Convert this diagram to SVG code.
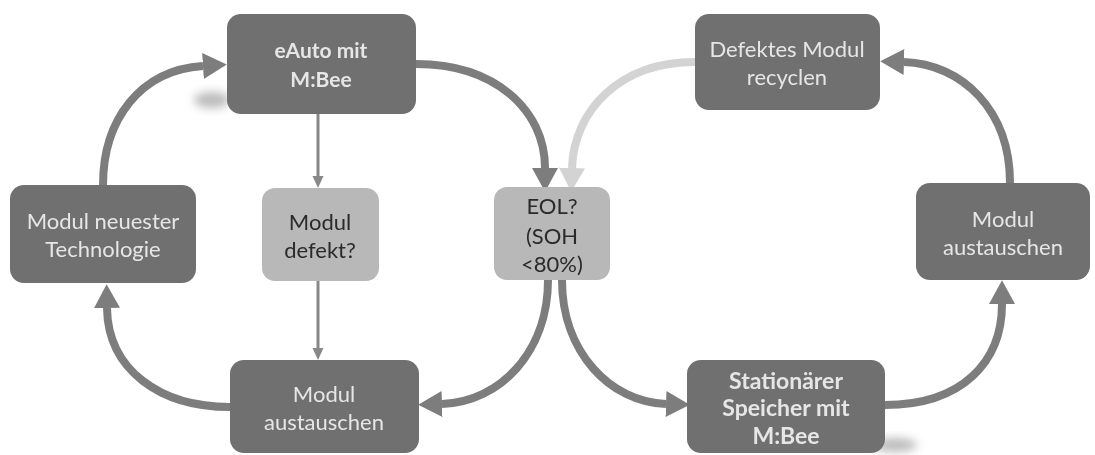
<svg xmlns="http://www.w3.org/2000/svg" width="1095" height="455" viewBox="0 0 1095 455">
<style>
.dark{fill:#707070;}
.light{fill:#b8b8b8;}
.t{font-family:Lato,"Open Sans","Liberation Sans",sans-serif;font-size:22px;text-anchor:middle;}
.tw{fill:#e6e6e6;}
.tb{fill:#2a2a2a;}
.b{font-weight:bold;font-size:21px;}
.bl{font-weight:bold;font-size:23px;}
.arr{fill:none;stroke:#7d7d7d;stroke-width:8;}
.arrl{fill:none;stroke:#d3d3d3;stroke-width:8;}
.thin{fill:none;stroke:#888888;stroke-width:3;}
</style>
<defs>
<marker id="ah" markerUnits="userSpaceOnUse" markerWidth="24" markerHeight="26" refX="0" refY="12" orient="auto" viewBox="0 0 22 24"><path d="M0,0 L22,12 L0,24 z" fill="#7d7d7d"/></marker>
<marker id="ahl" markerUnits="userSpaceOnUse" markerWidth="24" markerHeight="26" refX="0" refY="12" orient="auto" viewBox="0 0 22 24"><path d="M0,0 L22,12 L0,24 z" fill="#d3d3d3"/></marker>
<marker id="ahs" markerUnits="userSpaceOnUse" markerWidth="12" markerHeight="12" refX="0" refY="5.5" orient="auto" viewBox="0 0 12 11"><path d="M0,0 L12,5.5 L0,11 z" fill="#888888"/></marker>
<filter id="blur" x="-50%" y="-50%" width="200%" height="200%"><feGaussianBlur stdDeviation="5"/></filter>
</defs>
<g id="shadows" opacity="0.5">
<ellipse cx="212" cy="100" rx="18" ry="8" fill="#777" filter="url(#blur)"/>
<ellipse cx="895" cy="445" rx="22" ry="7" fill="#777" filter="url(#blur)"/>
</g>
<g id="connectors">
<path class="arr" d="M416,64 C495,64 545,110 545,168" marker-end="url(#ah)"/>
<path class="arrl" d="M695,62 C620,62 574,110 572,168" marker-end="url(#ahl)"/>
<path class="thin" d="M318,114 L318,176" marker-end="url(#ahs)"/>
<path class="thin" d="M318,281 L318,348" marker-end="url(#ahs)"/>
<path class="arr" d="M548,280 C548,352 500,402 442,404" marker-end="url(#ah)"/>
<path class="arr" d="M562,280 C562,352 610,402 666,404" marker-end="url(#ah)"/>
<path class="arr" d="M885,405 C962,405 1002,362 1002,304" marker-end="url(#ah)"/>
<path class="arr" d="M1010,183 C1010,110 962,64 904,62" marker-end="url(#ah)"/>
<path class="arr" d="M230,407 C160,407 108,370 107,308" marker-end="url(#ah)"/>
<path class="arr" d="M103,185 C103,120 140,70 203,66" marker-end="url(#ah)"/>
</g>
<g id="eauto">
<rect class="dark" x="227" y="14" width="189" height="100" rx="14"/>
<text class="t tw b" x="321" y="58">eAuto mit</text>
<text class="t tw b" x="321" y="87">M:Bee</text>
</g>
<g id="neuester">
<rect class="dark" x="10" y="185" width="186" height="98" rx="14"/>
<text class="t tw" x="103" y="229">Modul neuester</text>
<text class="t tw" x="103" y="257">Technologie</text>
</g>
<g id="defekt">
<rect class="light" x="262" y="188" width="117" height="93" rx="13"/>
<text class="t tb" x="320" y="230">Modul</text>
<text class="t tb" x="320" y="258">defekt?</text>
</g>
<g id="eol">
<rect class="light" x="494" y="187" width="116" height="93" rx="13"/>
<text class="t tb" x="552" y="214">EOL?</text>
<text class="t tb" x="552" y="244">(SOH</text>
<text class="t tb" x="552" y="272">&lt;80%)</text>
</g>
<g id="austauschen-links">
<rect class="dark" x="230" y="360" width="189" height="93" rx="14"/>
<text class="t tw" x="324" y="402">Modul</text>
<text class="t tw" x="324" y="430">austauschen</text>
</g>
<g id="recyclen">
<rect class="dark" x="695" y="14" width="185" height="96" rx="14"/>
<text class="t tw" x="787" y="57">Defektes Modul</text>
<text class="t tw" x="787" y="85">recyclen</text>
</g>
<g id="austauschen-rechts">
<rect class="dark" x="916" y="183" width="174" height="97" rx="14"/>
<text class="t tw" x="1003" y="227">Modul</text>
<text class="t tw" x="1003" y="255">austauschen</text>
</g>
<g id="stationaer">
<rect class="dark" x="687" y="360" width="198" height="93" rx="14"/>
<text class="t tw bl" x="786" y="389">Stationärer</text>
<text class="t tw bl" x="786" y="416">Speicher mit</text>
<text class="t tw bl" x="786" y="444">M:Bee</text>
</g>
</svg>
